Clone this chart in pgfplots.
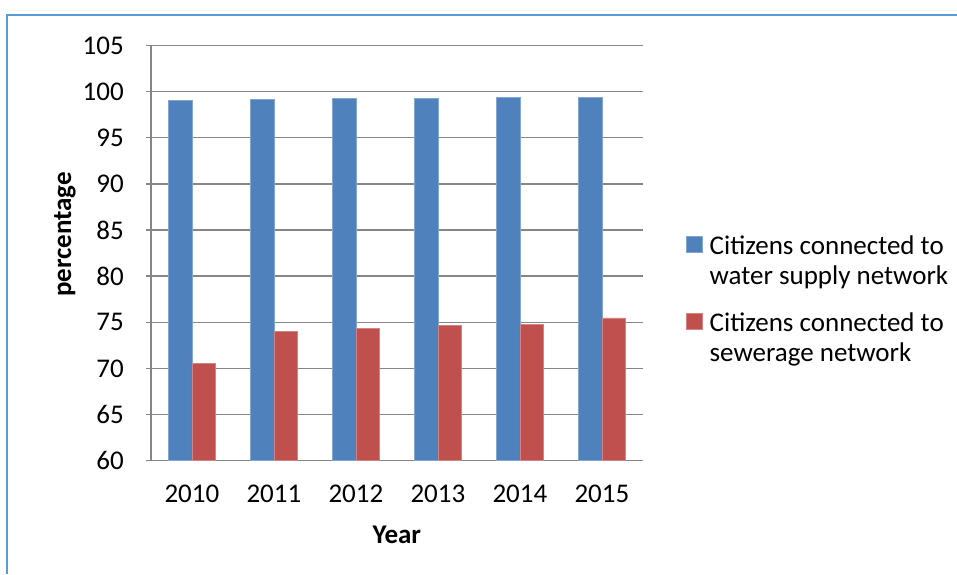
\documentclass[border=0pt]{standalone}
\usepackage{fontspec}
\setmainfont{Carlito}
\usepackage{pgfplots}
\pgfplotsset{compat=1.18}

\definecolor{waterblue}{HTML}{4F81BD}
\definecolor{sewerred}{HTML}{C0504D}
\definecolor{gridgray}{HTML}{868686}
\definecolor{frameblue}{HTML}{5B9BD5}
\newcommand\chartfont{\fontsize{27}{30}\selectfont}

\pgfplotstableread{
idx year water sewer
0 2010 99.09 70.58
1 2011 99.20 74.05
2 2012 99.27 74.30
3 2013 99.27 74.67
4 2014 99.34 74.80
5 2015 99.38 75.47
}\conndata

\begin{document}
\chartfont
\begin{tikzpicture}[x=1pt,y=1pt,font=\chartfont]
\path[use as bounding box] (0,0) rectangle (957,574);
% chart area frame (open to the right and bottom)
\draw[frameblue, line width=1.5pt] (7,0) -- (7,559) -- (957,559);
\begin{axis}[
  at={(184,123)}, anchor=south west,
  scale only axis, width=492pt, height=415pt,
  ymin=60, ymax=105, ytick={60,65,...,105},
  xmin=-0.5, xmax=5.5, xtick={0,...,5},
  xticklabels={2010,2011,2012,2013,2014,2015},
  ybar=0pt, bar width=23.3pt,
  axis lines*=left,
  axis line style={gridgray, line width=1.4pt},
  ymajorgrids, grid style={gridgray, line width=1.4pt},
  x tick style={draw=none},
  y tick style={gridgray, line width=1.4pt},
  tick align=outside, major tick length=5pt,
  /pgf/number format/assume math mode=true,
  tick label style={font=\chartfont, text=black},
  yticklabel style={xshift=-13pt},
  xticklabel style={yshift=-10pt},
  xlabel={\bfseries Year},
  ylabel={\bfseries percentage},
  xlabel style={at={(rel axis cs:0.5,0)}, anchor=north, yshift=-56pt},
  ylabel style={at={(rel axis cs:0,0.545)}, anchor=south, yshift=66pt},
  legend style={draw=none, fill=none, inner sep=0pt,
    at={(1.0874,0.542)}, anchor=north west,
    row sep=24pt, column sep=7pt, font=\chartfont,
    nodes={align=left, inner sep=0pt}},
  legend cell align=left,
  legend image code/.code={\fill[#1] (0pt,10pt) rectangle (16pt,26pt);},
]
\addplot[fill=waterblue, draw=waterblue!70!white, line width=0.6pt]
  table[x=idx, y=water] {\conndata};
\addlegendentry{Citizens connected to\\water supply network}
\addplot[fill=sewerred, draw=sewerred!70!white, line width=0.6pt]
  table[x=idx, y=sewer] {\conndata};
\addlegendentry{Citizens connected to\\sewerage network}
\end{axis}
\end{tikzpicture}
\end{document}
